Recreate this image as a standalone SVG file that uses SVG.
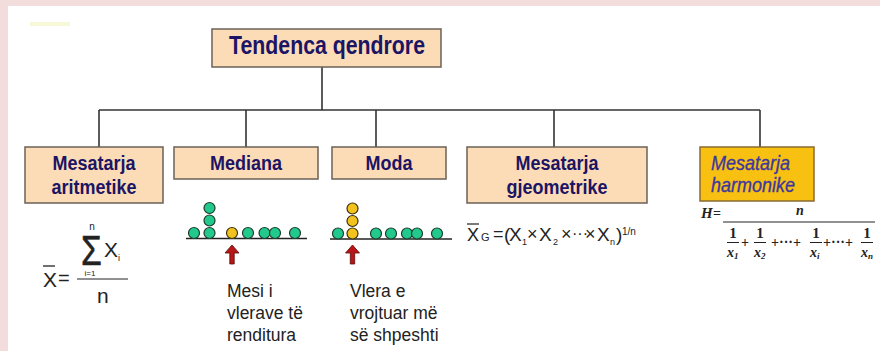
<svg xmlns="http://www.w3.org/2000/svg" width="880" height="351" viewBox="0 0 880 351">
<style>
.lbl{font-family:"Liberation Sans",Arial,sans-serif;font-weight:bold;font-size:18px;fill:#1c1464;text-anchor:middle}
.box{fill:#fcdcb6;stroke:#6b6158;stroke-width:1.5}
.con{stroke:#333;stroke-width:1.6;fill:none}
.desc{font-family:"Liberation Sans",Arial,sans-serif;font-size:17.5px;fill:#222}
.f{font-family:"Liberation Sans",Arial,sans-serif;fill:#222}
.h{font-family:"Liberation Serif","Times New Roman",serif;font-weight:bold;fill:#222}
.g{fill:#22c98c;stroke:#1d3b2c;stroke-width:1.2}
.y{fill:#f2c21e;stroke:#3b3010;stroke-width:1.2}
.base{stroke:#222;stroke-width:1.4}
.arr{fill:#b81616;stroke:#5a0a0a;stroke-width:0.8}
.hl{font-family:"Liberation Sans",Arial,sans-serif;font-style:italic;font-size:18px;fill:#3c38a0;stroke:#3c38a0;stroke-width:0.3}
</style>
<rect x="0" y="0" width="880" height="351" fill="#f2dcdc"/>
<rect x="8" y="6" width="872" height="345" fill="#ffffff"/>
<rect x="30" y="22" width="40" height="4" fill="#f7f8d8"/>

<g id="connectors">
<line class="con" x1="322" y1="67" x2="322" y2="110"/>
<line class="con" x1="99" y1="110" x2="760" y2="110"/>
<line class="con" x1="99" y1="110" x2="99" y2="147"/>
<line class="con" x1="246" y1="110" x2="246" y2="147"/>
<line class="con" x1="376" y1="110" x2="376" y2="147"/>
<line class="con" x1="554" y1="110" x2="554" y2="147"/>
<line class="con" x1="760" y1="110" x2="760" y2="147"/>
</g>

<g id="root">
<rect class="box" x="212" y="29" width="229" height="38"/>
<text class="lbl" transform="translate(327,54) scale(1,1.18)" style="font-size:21.3px">Tendenca qendrore</text>
</g>

<g id="aritmetike">
<rect class="box" x="25" y="147" width="138" height="56"/>
<text class="lbl" transform="translate(94,170) scale(1,1.15)">Mesatarja</text>
<text class="lbl" transform="translate(94,194) scale(1,1.15)">aritmetike</text>
<text class="f" x="43" y="287" font-size="21">X</text>
<line x1="43" y1="266" x2="55" y2="266" stroke="#222" stroke-width="1.3"/>
<text class="f" x="58" y="285" font-size="20">=</text>
<text class="f" x="92" y="230" font-size="10" text-anchor="middle">n</text>
<text class="f" transform="translate(81,265) scale(0.8,1)" font-size="42" stroke="#222" stroke-width="0.6">Σ</text>
<text class="f" x="90" y="276" font-size="8" text-anchor="middle">i=1</text>
<text class="f" x="104" y="257" font-size="21">X</text>
<text class="f" x="118" y="261" font-size="9">i</text>
<line x1="77" y1="279" x2="128" y2="279" stroke="#222" stroke-width="1.2"/>
<text class="f" x="97" y="303" font-size="21">n</text>
</g>

<g id="mediana">
<rect class="box" x="174" y="147" width="144" height="32"/>
<text class="lbl" transform="translate(246,170) scale(1,1.15)">Mediana</text>
<line class="base" x1="186" y1="238.5" x2="307" y2="238.5"/>
<circle class="g" cx="194" cy="233" r="5.5"/>
<circle class="g" cx="209.5" cy="233" r="5.5"/>
<circle class="g" cx="209.5" cy="220.5" r="5.5"/>
<circle class="g" cx="209.5" cy="208" r="5.5"/>
<circle class="y" cx="232" cy="233" r="5.5"/>
<circle class="g" cx="248" cy="233" r="5.5"/>
<circle class="g" cx="264.5" cy="233" r="5.5"/>
<circle class="g" cx="275" cy="233" r="5.5"/>
<circle class="g" cx="295" cy="233" r="5.5"/>
<path class="arr" d="M232,245 L239,253 L234.2,253 L234.2,264 L229.8,264 L229.8,253 L225,253 Z"/>
<text class="desc" x="227" y="297">Mesi i</text>
<text class="desc" x="227" y="319">vlerave të</text>
<text class="desc" x="227" y="341">renditura</text>
</g>

<g id="moda">
<rect class="box" x="332" y="147" width="114" height="32"/>
<text class="lbl" transform="translate(389,170) scale(1,1.15)">Moda</text>
<line class="base" x1="330" y1="239" x2="452" y2="239"/>
<circle class="g" cx="338" cy="233.5" r="5.5"/>
<circle class="y" cx="352.5" cy="233.5" r="5.5"/>
<circle class="y" cx="352.5" cy="221" r="5.5"/>
<circle class="y" cx="352.5" cy="208.5" r="5.5"/>
<circle class="g" cx="376" cy="233.5" r="5.5"/>
<circle class="g" cx="391" cy="233.5" r="5.5"/>
<circle class="g" cx="407" cy="233.5" r="5.5"/>
<circle class="g" cx="417" cy="233.5" r="5.5"/>
<circle class="g" cx="437" cy="233.5" r="5.5"/>
<path class="arr" d="M352.5,245 L359.5,253 L354.7,253 L354.7,264 L350.3,264 L350.3,253 L345.5,253 Z"/>
<text class="desc" x="350" y="297">Vlera e</text>
<text class="desc" x="350" y="319">vrojtuar më</text>
<text class="desc" x="350" y="341">së shpeshti</text>
</g>

<g id="gjeometrike">
<rect class="box" x="467" y="147" width="180" height="56"/>
<text class="lbl" transform="translate(557,170) scale(1,1.15)">Mesatarja</text>
<text class="lbl" transform="translate(557,194) scale(1,1.15)">gjeometrike</text>
<text class="f" x="467" y="240.5" font-size="18">X</text>
<line x1="467" y1="224" x2="479" y2="224" stroke="#222" stroke-width="1.2"/>
<text class="f" x="481" y="240.5" font-size="11">G</text>
<text class="f" x="493" y="240" font-size="18">=</text>
<text class="f" x="504" y="240.5" font-size="19">(</text>
<text class="f" x="509" y="240.5" font-size="19">X</text>
<text class="f" x="522" y="245" font-size="9">1</text>
<text class="f" x="527" y="240" font-size="18">×</text>
<text class="f" x="539" y="240.5" font-size="19">X</text>
<text class="f" x="553" y="245" font-size="9">2</text>
<text class="f" x="561" y="240" font-size="18">×</text>
<text class="f" x="572" y="239" font-size="16">···</text>
<text class="f" x="585" y="240" font-size="18">×</text>
<text class="f" x="597" y="240.5" font-size="19">X</text>
<text class="f" x="610" y="245" font-size="9">n</text>
<text class="f" x="616" y="240.5" font-size="19">)</text>
<text class="f" x="622" y="235" font-size="10">1/n</text>
</g>

<g id="harmonike">
<rect x="700" y="147" width="114" height="54" fill="#f8c010" stroke="#8a6a30" stroke-width="1.5"/>
<text class="hl" transform="translate(711,170) scale(1,1.15)">Mesatarja</text>
<text class="hl" transform="translate(711,192) scale(1,1.15)">harmonike</text>
<text class="h" x="701" y="218" font-size="15" font-style="italic">H</text>
<text class="h" x="713" y="218" font-size="14">=</text>
<line x1="723" y1="222" x2="875" y2="222" stroke="#222" stroke-width="1"/>
<text class="h" x="800" y="215" font-size="14" font-style="italic" text-anchor="middle">n</text>
<g text-anchor="middle">
<text class="h" x="733" y="238" font-size="15">1</text>
<text class="h" x="760" y="238" font-size="15">1</text>
<text class="h" x="816" y="238" font-size="15">1</text>
<text class="h" x="867" y="238" font-size="15">1</text>
</g>
<g stroke="#222" stroke-width="1">
<line x1="727" y1="242.5" x2="739" y2="242.5"/>
<line x1="754" y1="242.5" x2="766" y2="242.5"/>
<line x1="810" y1="242.5" x2="822" y2="242.5"/>
<line x1="861" y1="242.5" x2="873" y2="242.5"/>
</g>
<text class="h" x="727" y="257" font-size="14" font-style="italic">x<tspan font-size="9" dy="2">1</tspan></text>
<text class="h" x="754" y="257" font-size="14" font-style="italic">x<tspan font-size="9" dy="2">2</tspan></text>
<text class="h" x="810" y="257" font-size="14" font-style="italic">x<tspan font-size="9" dy="2">i</tspan></text>
<text class="h" x="861" y="257" font-size="14" font-style="italic">x<tspan font-size="9" dy="2">n</tspan></text>
<text class="h" x="741" y="247" font-size="14">+</text>
<text class="h" x="771" y="247" font-size="14">+···+</text>
<text class="h" x="823" y="247" font-size="14">+···+</text>
</g>
</svg>
